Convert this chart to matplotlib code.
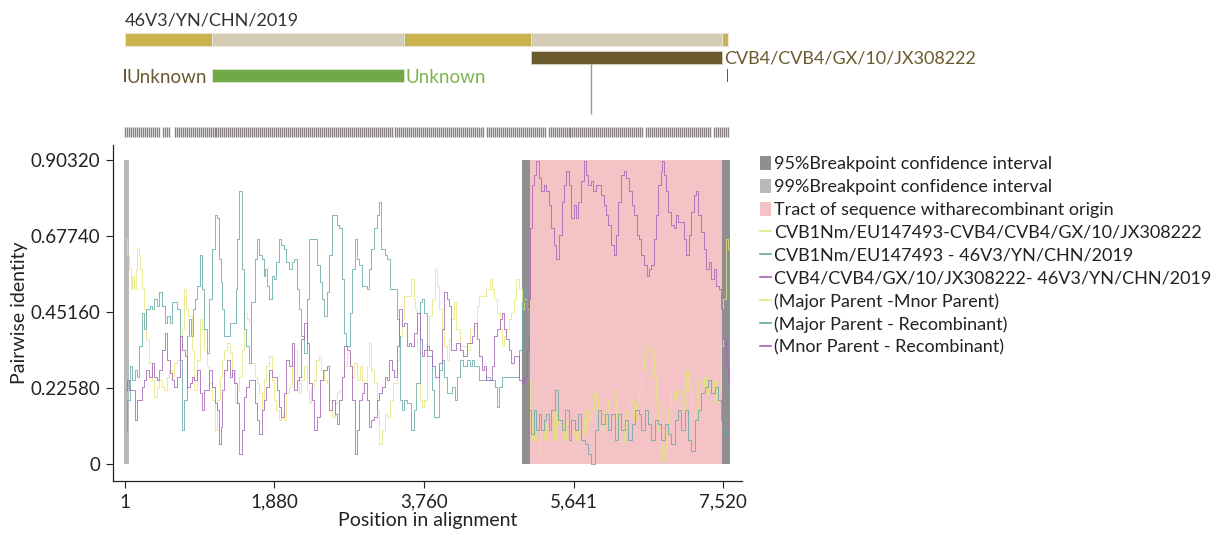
"""Recombination plot: pairwise identity along the alignment for 46V3/YN/CHN/2019."""

import matplotlib

matplotlib.use("Agg")
import matplotlib.pyplot as plt
import numpy as np
from matplotlib.lines import Line2D
from matplotlib.patches import Patch

# ---- data -----------------------------------------------------------------
x_ticks = [1, 1880, 3760, 5641, 7520]
x_tick_labels = ["1", "1,880", "3,760", "5,641", "7,520"]
y_ticks = [0, 0.2258, 0.4516, 0.6774, 0.9032]
y_tick_labels = ["0", "0.22580", "0.45160", "0.67740", "0.90320"]

ci99 = [(-12, 52)]
ci95 = [(4992, 5092), (7506, 7606)]
recomb_tract = (5092, 7506)

teal_pos = [14, 39, 76, 102, 139, 164, 202, 227, 252, 290, 328, 353, 378, 416, 453, 479, 516, 542, 579, 604,
            642, 667, 705, 730, 755, 793, 818, 831, 881, 893, 919, 956, 981, 1019, 1044, 1082, 1107, 1145, 1170, 1195,
            1208, 1233, 1258, 1296, 1333, 1384, 1396, 1421, 1459, 1484, 1509, 1547, 1572, 1610, 1648, 1673, 1698, 1736, 1761, 1773,
            1798, 1824, 1861, 1886, 1924, 1949, 1987, 2012, 2050, 2075, 2113, 2138, 2176, 2201, 2238, 2276, 2301, 2339, 2364, 2402,
            2427, 2465, 2490, 2515, 2553, 2590, 2616, 2653, 2678, 2716, 2741, 2766, 2804, 2842, 2867, 2905, 2930, 2955, 2993, 3018,
            3056, 3081, 3118, 3156, 3181, 3206, 3244, 3282, 3307, 3345, 3370, 3407, 3433, 3458, 3470, 3495, 3533, 3558, 3583, 3621,
            3646, 3684, 3722, 3747, 3772, 3810, 3847, 3873, 3898, 3935, 3973, 3998, 4036, 4061, 4099, 4124, 4162, 4187, 4225, 4275,
            4313, 4350, 4375, 4413, 4438, 4476, 4526, 4564, 4602, 4639, 4664, 4690, 4715, 4753, 4815, 4878, 4941, 4978, 5004, 5041,
            5066, 5092, 5129, 5155, 5180, 5218, 5255, 5280, 5318, 5343, 5381, 5431, 5469, 5507, 5557, 5595, 5632, 5683, 5720, 5758,
            5808, 5846, 5883, 5934, 5972, 6009, 6060, 6097, 6135, 6185, 6223, 6261, 6311, 6349, 6387, 6437, 6475, 6512, 6563, 6600,
            6638, 6688, 6726, 6764, 6814, 6852, 6889, 6939, 6977, 7015, 7065, 7103, 7141, 7191, 7229, 7266, 7316, 7354, 7392, 7442,
            7480, 7505, 7543, 7580]
teal_val = [0.10, 0.19, 0.29, 0.25, 0.28, 0.26, 0.35, 0.45, 0.40, 0.46, 0.47, 0.46, 0.49, 0.47, 0.51, 0.47, 0.42, 0.44, 0.42, 0.48,
            0.48, 0.46, 0.31, 0.10, 0.19, 0.38, 0.43, 0.38, 0.46, 0.49, 0.53, 0.62, 0.52, 0.40, 0.33, 0.49, 0.64, 0.74, 0.73, 0.61,
            0.54, 0.46, 0.38, 0.38, 0.42, 0.42, 0.52, 0.67, 0.81, 0.58, 0.40, 0.35, 0.30, 0.48, 0.61, 0.67, 0.62, 0.61, 0.56, 0.58,
            0.53, 0.49, 0.56, 0.55, 0.60, 0.67, 0.65, 0.64, 0.60, 0.58, 0.60, 0.61, 0.52, 0.46, 0.38, 0.33, 0.49, 0.67, 0.67, 0.67,
            0.59, 0.54, 0.49, 0.44, 0.51, 0.62, 0.74, 0.74, 0.71, 0.70, 0.55, 0.39, 0.35, 0.45, 0.58, 0.67, 0.61, 0.59, 0.53, 0.53,
            0.52, 0.58, 0.64, 0.70, 0.74, 0.78, 0.64, 0.62, 0.61, 0.52, 0.52, 0.52, 0.43, 0.38, 0.19, 0.16, 0.19, 0.18, 0.18, 0.10,
            0.16, 0.24, 0.48, 0.49, 0.45, 0.32, 0.32, 0.22, 0.14, 0.14, 0.28, 0.31, 0.26, 0.21, 0.21, 0.23, 0.19, 0.26, 0.31, 0.29,
            0.31, 0.29, 0.31, 0.29, 0.29, 0.25, 0.25, 0.26, 0.25, 0.25, 0.23, 0.17, 0.23, 0.26, 0.26, 0.26, 0.26, 0.34, 0.48, 0.52,
            0.37, 0.16, 0.09, 0.16, 0.10, 0.15, 0.10, 0.13, 0.15, 0.10, 0.16, 0.22, 0.13, 0.10, 0.16, 0.07, 0.13, 0.10, 0.15, 0.07,
            0.06, 0.03, 0.00, 0.10, 0.16, 0.12, 0.15, 0.10, 0.15, 0.07, 0.15, 0.10, 0.13, 0.07, 0.12, 0.16, 0.15, 0.10, 0.16, 0.12,
            0.07, 0.13, 0.12, 0.07, 0.12, 0.09, 0.06, 0.13, 0.16, 0.10, 0.16, 0.07, 0.04, 0.13, 0.16, 0.21, 0.23, 0.25, 0.21, 0.23,
            0.19, 0.13, 0.10, 0.09]

purple_pos = [14, 39, 64, 102, 139, 164, 202, 227, 252, 290, 315, 353, 378, 416, 441, 479, 516, 542, 579, 604,
              642, 667, 705, 730, 768, 793, 831, 856, 893, 919, 956, 981, 1019, 1044, 1082, 1107, 1145, 1170, 1195, 1208,
              1233, 1258, 1296, 1333, 1359, 1384, 1421, 1459, 1484, 1509, 1547, 1572, 1610, 1648, 1673, 1698, 1736, 1761, 1798, 1824,
              1861, 1899, 1924, 1949, 1987, 2012, 2050, 2075, 2113, 2150, 2176, 2201, 2238, 2264, 2301, 2339, 2364, 2402, 2427, 2465,
              2515, 2553, 2590, 2616, 2653, 2678, 2716, 2741, 2779, 2804, 2842, 2867, 2905, 2930, 2955, 2993, 3018, 3056, 3081, 3118,
              3156, 3181, 3219, 3244, 3282, 3307, 3332, 3370, 3407, 3433, 3470, 3495, 3533, 3558, 3583, 3621, 3659, 3684, 3722, 3747,
              3772, 3810, 3847, 3873, 3910, 3935, 3973, 3998, 4036, 4061, 4086, 4124, 4149, 4187, 4225, 4275, 4313, 4350, 4375, 4413,
              4438, 4476, 4501, 4526, 4564, 4602, 4627, 4664, 4690, 4728, 4753, 4778, 4815, 4840, 4878, 4903, 4941, 4978, 5004, 5041,
              5066, 5092, 5104, 5129, 5155, 5180, 5218, 5255, 5280, 5318, 5343, 5381, 5406, 5444, 5469, 5507, 5532, 5557, 5595, 5632,
              5658, 5683, 5720, 5758, 5783, 5808, 5846, 5871, 5909, 5934, 5972, 6009, 6034, 6060, 6097, 6135, 6160, 6185, 6223, 6261,
              6286, 6324, 6349, 6387, 6412, 6450, 6475, 6512, 6538, 6575, 6600, 6638, 6663, 6688, 6726, 6751, 6764, 6789, 6814, 6852,
              6889, 6914, 6939, 6977, 7015, 7040, 7078, 7103, 7141, 7166, 7191, 7229, 7266, 7291, 7329, 7354, 7392, 7417, 7455, 7480,
              7505, 7543, 7568, 7593]
purple_val = [0.22, 0.25, 0.22, 0.22, 0.13, 0.19, 0.19, 0.23, 0.25, 0.28, 0.26, 0.30, 0.26, 0.25, 0.28, 0.34, 0.39, 0.31, 0.27, 0.25,
              0.23, 0.26, 0.38, 0.34, 0.32, 0.23, 0.24, 0.26, 0.25, 0.28, 0.21, 0.16, 0.22, 0.22, 0.28, 0.23, 0.18, 0.16, 0.06, 0.11,
              0.22, 0.28, 0.31, 0.26, 0.28, 0.24, 0.18, 0.03, 0.10, 0.20, 0.23, 0.25, 0.25, 0.18, 0.13, 0.09, 0.16, 0.19, 0.23, 0.28,
              0.26, 0.26, 0.22, 0.17, 0.14, 0.21, 0.31, 0.29, 0.36, 0.22, 0.25, 0.26, 0.37, 0.42, 0.36, 0.24, 0.19, 0.10, 0.14, 0.25,
              0.28, 0.29, 0.16, 0.19, 0.15, 0.12, 0.19, 0.26, 0.35, 0.34, 0.29, 0.19, 0.03, 0.10, 0.19, 0.21, 0.24, 0.19, 0.11, 0.13,
              0.14, 0.19, 0.21, 0.23, 0.26, 0.25, 0.31, 0.28, 0.26, 0.35, 0.46, 0.41, 0.42, 0.35, 0.36, 0.35, 0.39, 0.45, 0.37, 0.32,
              0.34, 0.35, 0.34, 0.29, 0.26, 0.26, 0.30, 0.40, 0.51, 0.49, 0.47, 0.34, 0.34, 0.36, 0.34, 0.32, 0.36, 0.36, 0.38, 0.42,
              0.37, 0.32, 0.28, 0.29, 0.25, 0.25, 0.29, 0.38, 0.40, 0.43, 0.45, 0.40, 0.37, 0.34, 0.30, 0.32, 0.32, 0.25, 0.24, 0.26,
              0.34, 0.49, 0.70, 0.83, 0.86, 0.90, 0.85, 0.81, 0.83, 0.81, 0.77, 0.70, 0.65, 0.61, 0.68, 0.78, 0.83, 0.87, 0.83, 0.73,
              0.77, 0.73, 0.78, 0.84, 0.90, 0.86, 0.83, 0.84, 0.81, 0.83, 0.83, 0.80, 0.77, 0.74, 0.71, 0.65, 0.62, 0.68, 0.78, 0.86,
              0.87, 0.85, 0.81, 0.77, 0.74, 0.68, 0.67, 0.62, 0.59, 0.56, 0.58, 0.59, 0.67, 0.74, 0.83, 0.87, 0.90, 0.86, 0.81, 0.75,
              0.71, 0.70, 0.74, 0.72, 0.72, 0.67, 0.62, 0.68, 0.75, 0.80, 0.81, 0.74, 0.69, 0.64, 0.58, 0.60, 0.55, 0.58, 0.53, 0.52,
              0.46, 0.37, 0.29, 0.25]

yellow_pos = [14, 39, 64, 76, 102, 127, 139, 164, 189, 202, 227, 252, 290, 315, 353, 378, 416, 441, 479, 504,
              542, 567, 604, 642, 667, 705, 730, 755, 780, 818, 856, 881, 919, 956, 981, 1019, 1044, 1082, 1107, 1145,
              1170, 1208, 1233, 1258, 1296, 1333, 1359, 1396, 1421, 1459, 1484, 1522, 1547, 1572, 1610, 1648, 1673, 1698, 1736, 1761,
              1798, 1824, 1861, 1886, 1924, 1949, 1987, 2012, 2050, 2075, 2113, 2138, 2176, 2201, 2238, 2264, 2301, 2326, 2364, 2389,
              2427, 2452, 2490, 2515, 2553, 2590, 2616, 2653, 2678, 2716, 2741, 2779, 2804, 2842, 2867, 2892, 2930, 2968, 2993, 3018,
              3056, 3081, 3118, 3144, 3181, 3219, 3244, 3282, 3307, 3345, 3395, 3433, 3470, 3495, 3533, 3558, 3583, 3621, 3646, 3659,
              3684, 3722, 3747, 3772, 3810, 3835, 3873, 3910, 3935, 3973, 3998, 4036, 4061, 4086, 4124, 4149, 4187, 4225, 4275, 4313,
              4350, 4375, 4413, 4438, 4476, 4526, 4564, 4602, 4627, 4664, 4690, 4728, 4753, 4778, 4815, 4840, 4878, 4903, 4941, 4978,
              5004, 5041, 5066, 5092, 5104, 5129, 5155, 5180, 5218, 5255, 5280, 5318, 5343, 5381, 5406, 5431, 5469, 5507, 5532, 5557,
              5595, 5632, 5658, 5683, 5720, 5758, 5783, 5808, 5846, 5883, 5909, 5934, 5972, 6009, 6034, 6060, 6097, 6135, 6160, 6185,
              6223, 6261, 6286, 6324, 6349, 6387, 6412, 6437, 6475, 6512, 6538, 6563, 6600, 6638, 6663, 6688, 6726, 6751, 6764, 6789,
              6814, 6852, 6889, 6914, 6939, 6977, 7015, 7040, 7065, 7103, 7141, 7191, 7229, 7266, 7291, 7316, 7354, 7392, 7417, 7455,
              7480, 7505, 7543, 7568, 7593]
yellow_val = [0.67, 0.62, 0.58, 0.52, 0.56, 0.52, 0.58, 0.64, 0.62, 0.58, 0.52, 0.46, 0.37, 0.30, 0.25, 0.20, 0.23, 0.25, 0.23, 0.22,
              0.26, 0.28, 0.26, 0.30, 0.31, 0.34, 0.40, 0.52, 0.46, 0.44, 0.34, 0.22, 0.31, 0.43, 0.40, 0.34, 0.29, 0.24, 0.19, 0.10,
              0.19, 0.26, 0.31, 0.34, 0.36, 0.33, 0.28, 0.18, 0.22, 0.26, 0.34, 0.45, 0.43, 0.42, 0.30, 0.26, 0.24, 0.21, 0.16, 0.25,
              0.29, 0.32, 0.25, 0.19, 0.16, 0.13, 0.15, 0.13, 0.21, 0.23, 0.29, 0.34, 0.26, 0.21, 0.25, 0.29, 0.22, 0.18, 0.23, 0.25,
              0.31, 0.32, 0.28, 0.25, 0.24, 0.19, 0.14, 0.18, 0.21, 0.22, 0.26, 0.29, 0.33, 0.29, 0.26, 0.30, 0.25, 0.29, 0.25, 0.24,
              0.29, 0.36, 0.28, 0.24, 0.16, 0.06, 0.10, 0.15, 0.14, 0.19, 0.24, 0.31, 0.38, 0.43, 0.50, 0.50, 0.50, 0.55, 0.49, 0.46,
              0.34, 0.19, 0.17, 0.19, 0.34, 0.44, 0.49, 0.58, 0.53, 0.46, 0.40, 0.35, 0.31, 0.37, 0.43, 0.48, 0.40, 0.35, 0.35, 0.34,
              0.40, 0.40, 0.41, 0.47, 0.50, 0.50, 0.52, 0.55, 0.52, 0.49, 0.45, 0.40, 0.35, 0.38, 0.40, 0.43, 0.45, 0.49, 0.55, 0.52,
              0.46, 0.49, 0.46, 0.25, 0.13, 0.07, 0.10, 0.07, 0.04, 0.10, 0.07, 0.12, 0.10, 0.15, 0.07, 0.16, 0.12, 0.10, 0.07, 0.13,
              0.12, 0.09, 0.10, 0.07, 0.10, 0.13, 0.09, 0.16, 0.13, 0.16, 0.21, 0.20, 0.15, 0.10, 0.13, 0.16, 0.19, 0.22, 0.19, 0.13,
              0.07, 0.06, 0.10, 0.16, 0.19, 0.19, 0.13, 0.18, 0.22, 0.28, 0.32, 0.35, 0.35, 0.34, 0.26, 0.19, 0.10, 0.06, 0.01, 0.04,
              0.10, 0.16, 0.21, 0.19, 0.22, 0.21, 0.16, 0.22, 0.28, 0.22, 0.16, 0.13, 0.25, 0.23, 0.26, 0.21, 0.23, 0.22, 0.25, 0.18,
              0.22, 0.35, 0.49, 0.67, 0.64]

# top panel: recombinant sequence, minor parent, unknown parent and informative sites
recombinant_name = "46V3/YN/CHN/2019"
minor_parent_name = "CVB4/CVB4/GX/10/JX308222"
recomb_breaks = [1, 1095, 3508, 5104, 7505, 7580]
minor_span = (5104, 7505)
unknown_span = (1095, 3508)
breakpoint_marker = 5859
site_gaps = [(430, 455), (560, 610), (3370, 3395), (4515, 4540), (5280, 5305), (6525, 6550), (7355, 7380)]

series = [
    ("CVB1Nm/EU147493-CVB4/CVB4/GX/10/JX308222", yellow_pos, yellow_val, "#e6e67c"),
    ("CVB1Nm/EU147493 - 46V3/YN/CHN/2019", teal_pos, teal_val, "#62a6a6"),
    ("CVB4/CVB4/GX/10/JX308222- 46V3/YN/CHN/2019", purple_pos, purple_val, "#a262b6"),
]
pair_labels = ["(Major Parent -Mnor Parent)", "(Major Parent - Recombinant)", "(Mnor Parent - Recombinant)"]


def main() -> None:
    plt.rcParams.update({"font.family": ["Lato", "DejaVu Sans"], "font.size": 13})

    fig = plt.figure(figsize=(12.26, 5.34), dpi=100)
    left, width = 113 / 1226, 629 / 1226
    xlim = (-150, 7757)

    # ---- main identity plot
    ax = fig.add_axes([left, 1 - 481 / 534, width, 336 / 534])
    ytop = y_ticks[-1]
    for a, b in ci99:
        ax.bar(a, ytop, width=b - a, align="edge", color="#b9b9b9", linewidth=0, zorder=1)
    ax.bar(recomb_tract[0], ytop, width=recomb_tract[1] - recomb_tract[0], align="edge",
           color="#f3c3c5", linewidth=0, zorder=1)
    for a, b in ci95:
        ax.bar(a, ytop, width=b - a, align="edge", color="#8f8f91", linewidth=0, zorder=1)

    for _, pos, val, color in series:
        ax.plot(pos, val, drawstyle="steps-mid", color=color, lw=0.7, alpha=0.8, zorder=2)

    ax.set_xlim(*xlim)
    ax.set_ylim(-0.0505, 0.948)
    ax.set_xticks(x_ticks, x_tick_labels)
    ax.set_yticks(y_ticks, y_tick_labels)
    ax.tick_params(length=5, width=0.8, labelsize=13.5, colors="#222222", pad=4)
    for side in ("top", "right"):
        ax.spines[side].set_visible(False)
    for side in ("left", "bottom"):
        ax.spines[side].set_linewidth(0.9)
        ax.spines[side].set_color("#222222")
    ax.set_xlabel("Position in alignment", fontsize=14, color="#222222", labelpad=1)
    ax.set_ylabel("Pairwise identity", fontsize=14, color="#222222", labelpad=2)

    # ---- top annotation panel
    top = fig.add_axes([left, 1 - 140 / 534, width, 140 / 534])
    top.set_xlim(*xlim)
    top.set_ylim(140, 0)
    top.axis("off")
    top.text(recomb_breaks[0], 25, recombinant_name, fontsize=13, color="#333333", va="baseline")
    for i, (a, b) in enumerate(zip(recomb_breaks[:-1], recomb_breaks[1:])):
        color = "#c9b34f" if i % 2 == 0 else "#d3cdb5"
        top.barh(39.5, b - a, left=a, height=13, color=color, edgecolor="#ece8da", linewidth=0.6)
    top.barh(57.5, minor_span[1] - minor_span[0], left=minor_span[0], height=13,
             color="#6b5a2d", edgecolor="#d8d2bf", linewidth=0.6)
    top.text(minor_span[1] + 30, 58.5, minor_parent_name, fontsize=13, color="#6b5a2d", va="center")
    top.barh(75.5, unknown_span[1] - unknown_span[0], left=unknown_span[0], height=13,
             color="#70a845", edgecolor="#d9e8cf", linewidth=0.6)
    top.barh(75.5, 22, left=-10, height=13, color="#6b5a2d", linewidth=0)
    top.barh(75.5, 22, left=minor_span[1] + 60, height=13, color="#6b5a2d", linewidth=0)
    top.text(20, 77.5, "Unknown", fontsize=13.5, color="#6b5a2d", va="center")
    top.text(unknown_span[1] + 25, 77.5, "Unknown", fontsize=13.5, color="#7ab44e", va="center")
    top.vlines(breakpoint_marker, 64, 114, color="#999999", lw=1.0)

    sites = np.arange(recomb_breaks[0], recomb_breaks[-1], 25)
    keep = np.ones(len(sites), dtype=bool)
    for a, b in site_gaps:
        keep &= ~((sites >= a) & (sites <= b))
    top.vlines(sites[keep], 127, 137, color="#8a8282", lw=1.0)

    # ---- legend
    handles = [
        Patch(facecolor="#8f8f91", edgecolor="none"),
        Patch(facecolor="#b9b9b9", edgecolor="none"),
        Patch(facecolor="#f3c3c5", edgecolor="none"),
    ]
    labels = [
        "95%Breakpoint confidence interval",
        "99%Breakpoint confidence interval",
        "Tract of sequence witharecombinant origin",
    ]
    for name, _, _, color in series:
        handles.append(Line2D([], [], color=color, lw=1.2))
        labels.append(name)
    for text, (_, _, _, color) in zip(pair_labels, series):
        handles.append(Line2D([], [], color=color, lw=1.2))
        labels.append(text)
    fig.legend(handles, labels, loc="upper left", bbox_to_anchor=(760 / 1226, 1 - 156 / 534),
               frameon=False, fontsize=13, handlelength=0.6, handleheight=0.8, handletextpad=0.2,
               labelspacing=0.37, borderpad=0, borderaxespad=0, labelcolor="#222222")

    fig.savefig("out.png", dpi=100)
    plt.close(fig)


if __name__ == "__main__":
    main()
